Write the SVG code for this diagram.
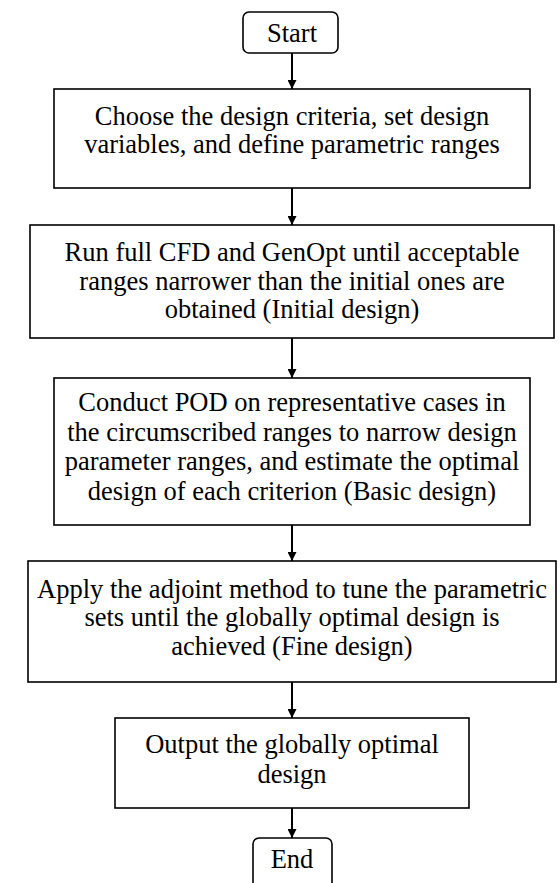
<svg xmlns="http://www.w3.org/2000/svg" width="560" height="883" viewBox="0 0 560 883">
<defs>
<marker id="ah" viewBox="0 0 10 10" refX="10" refY="5" markerWidth="9" markerHeight="9" markerUnits="userSpaceOnUse" orient="auto">
<path d="M0,0 L10,5 L0,10 z" fill="#000"/>
</marker>
</defs>
<style>
.box{fill:#fff;stroke:#000;stroke-width:1.6}
.c{stroke:#000;stroke-width:2;fill:none;marker-end:url(#ah)}
</style>
<rect width="560" height="883" fill="#fff"/>
<g id="connectors">
<line class="c" x1="292" y1="53" x2="292" y2="89"/>
<line class="c" x1="292" y1="188" x2="292" y2="225"/>
<line class="c" x1="292" y1="338" x2="292" y2="378"/>
<line class="c" x1="292" y1="525" x2="292" y2="561"/>
<line class="c" x1="292" y1="682" x2="292" y2="718"/>
<line class="c" x1="292" y1="808" x2="292" y2="838"/>
</g>
<g font-family="'Liberation Serif', 'Times New Roman', Tinos, 'DejaVu Serif', serif" font-size="26.5" fill="#000" text-anchor="middle">
<g id="start">
<rect class="box" x="243" y="12" width="95" height="41" rx="6"/>
<text x="292" y="42">Start</text>
</g>
<g id="step1">
<rect class="box" x="54" y="89" width="476" height="99"/>
<text x="292" y="125">Choose the design criteria, set design</text>
<text x="292" y="153">variables, and define parametric ranges</text>
</g>
<g id="step2">
<rect class="box" x="30" y="225" width="524" height="113"/>
<text x="292" y="261">Run full CFD and GenOpt until acceptable</text>
<text x="292" y="290">ranges narrower than the initial ones are</text>
<text x="292" y="318">obtained (Initial design)</text>
</g>
<g id="step3">
<rect class="box" x="54" y="378" width="476" height="147"/>
<text x="292" y="411">Conduct POD on representative cases in</text>
<text x="292" y="441">the circumscribed ranges to narrow design</text>
<text x="292" y="470">parameter ranges, and estimate the optimal</text>
<text x="292" y="500">design of each criterion (Basic design)</text>
</g>
<g id="step4">
<rect class="box" x="28" y="561" width="528" height="121"/>
<text x="292" y="598">Apply the adjoint method to tune the parametric</text>
<text x="292" y="626">sets until the globally optimal design is</text>
<text x="292" y="655">achieved (Fine design)</text>
</g>
<g id="step5">
<rect class="box" x="115" y="718" width="354" height="90"/>
<text x="292" y="753">Output the globally optimal</text>
<text x="292" y="783">design</text>
</g>
<g id="end">
<rect class="box" x="253" y="838" width="79" height="60" rx="6"/>
<text x="292" y="868">End</text>
</g>
</g>
</svg>
